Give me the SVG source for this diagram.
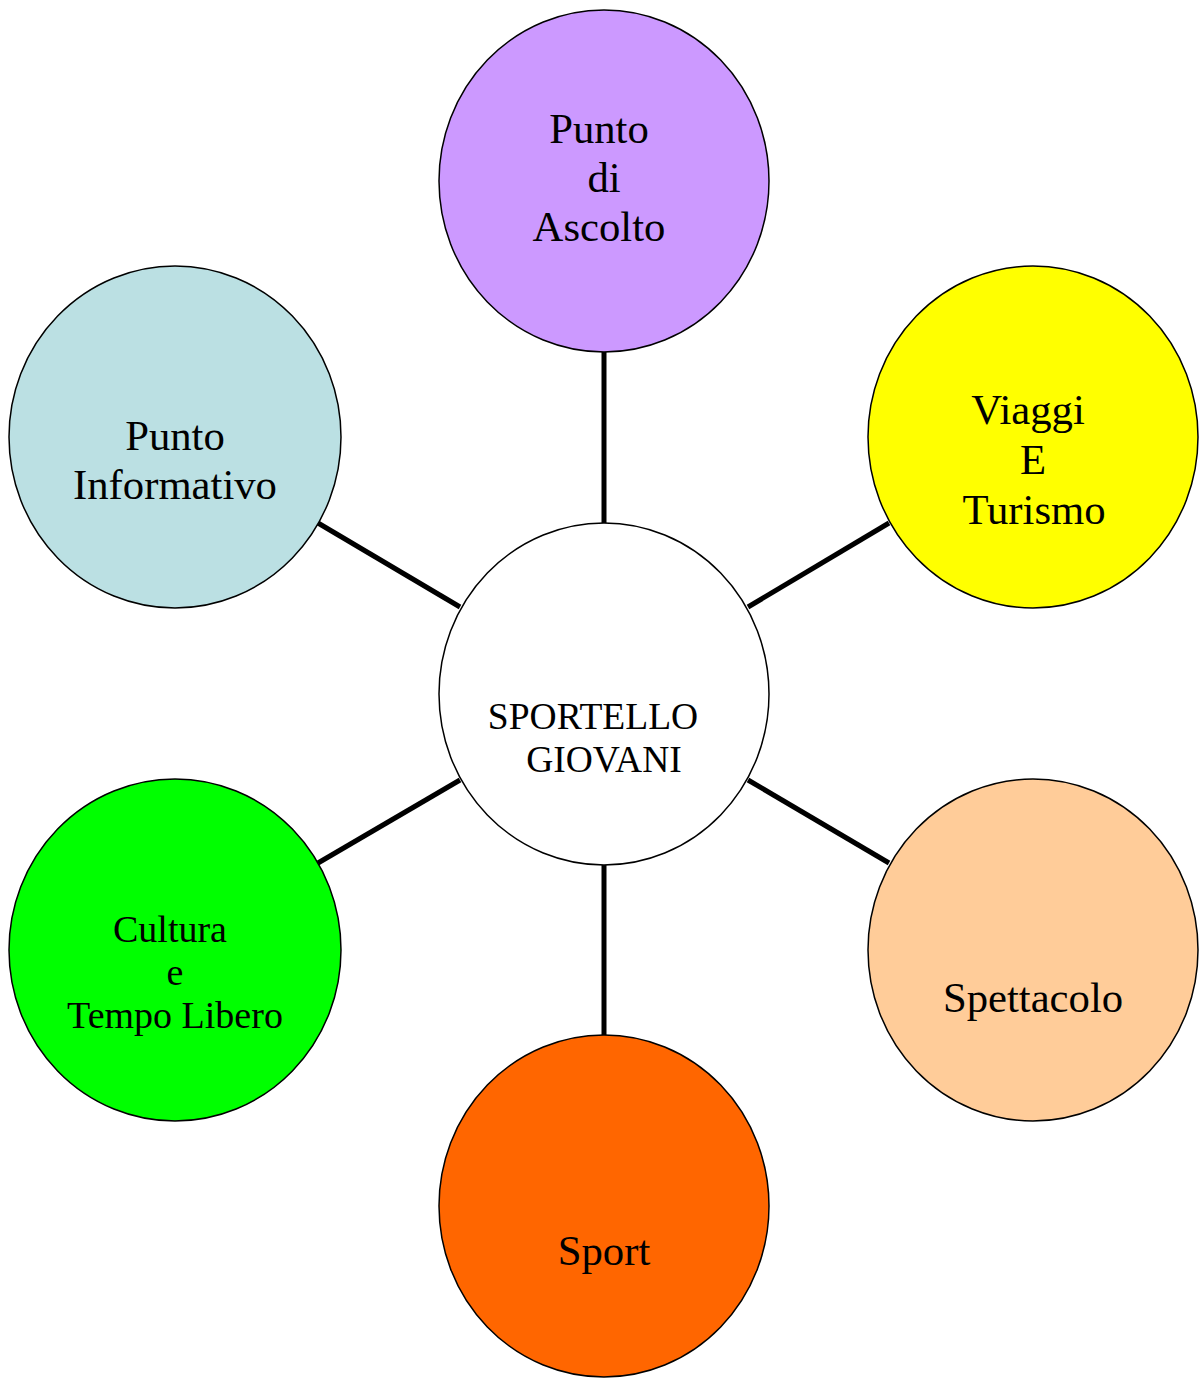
<svg xmlns="http://www.w3.org/2000/svg" width="1200" height="1378" viewBox="0 0 1200 1378">
<style>
.n{stroke:#000;stroke-width:1.5}
.t{font-family:"Liberation Serif","Times New Roman",serif;fill:#000;text-anchor:middle}
.b{font-size:42.7px}
.c{stroke:#000;stroke-width:5;fill:none}
</style>
<rect width="1200" height="1378" fill="#fff"/>
<g id="connectors">
<line class="c" x1="604" y1="352" x2="604" y2="523"/>
<line class="c" x1="318" y1="523" x2="460" y2="607"/>
<line class="c" x1="889" y1="523" x2="748" y2="607"/>
<line class="c" x1="318" y1="863" x2="460" y2="780"/>
<line class="c" x1="889" y1="863" x2="748" y2="780"/>
<line class="c" x1="604" y1="865" x2="604" y2="1035"/>
</g>
<g id="center">
<ellipse class="n" cx="604" cy="694" rx="165" ry="171" fill="#fff"/>
<text class="t" font-size="37.5" x="593" y="729">SPORTELLO</text>
<text class="t" font-size="37.5" x="604" y="772">GIOVANI</text>
</g>
<g id="punto-ascolto">
<ellipse class="n" cx="604" cy="181" rx="165" ry="171" fill="#CC99FF"/>
<text class="t b" x="599" y="143">Punto</text>
<text class="t b" x="604" y="192">di</text>
<text class="t b" x="599" y="241">Ascolto</text>
</g>
<g id="punto-informativo">
<ellipse class="n" cx="175" cy="437" rx="166" ry="171" fill="#BBE0E3"/>
<text class="t b" x="175" y="450">Punto</text>
<text class="t b" x="175" y="499">Informativo</text>
</g>
<g id="viaggi">
<ellipse class="n" cx="1033" cy="437" rx="165" ry="171" fill="#FFFF00"/>
<text class="t b" x="1028" y="424">Viaggi</text>
<text class="t b" x="1033" y="474">E</text>
<text class="t b" x="1034" y="524">Turismo</text>
</g>
<g id="cultura">
<ellipse class="n" cx="175" cy="950" rx="166" ry="171" fill="#00FF00"/>
<text class="t" font-size="38" x="170" y="942">Cultura</text>
<text class="t" font-size="38" x="175" y="985">e</text>
<text class="t" font-size="38" x="175" y="1028">Tempo Libero</text>
</g>
<g id="spettacolo">
<ellipse class="n" cx="1033" cy="950" rx="165" ry="171" fill="#FFCC99"/>
<text class="t b" x="1033" y="1012">Spettacolo</text>
</g>
<g id="sport">
<ellipse class="n" cx="604" cy="1206" rx="165" ry="171" fill="#FF6600"/>
<text class="t b" x="604" y="1265">Sport</text>
</g>
</svg>
